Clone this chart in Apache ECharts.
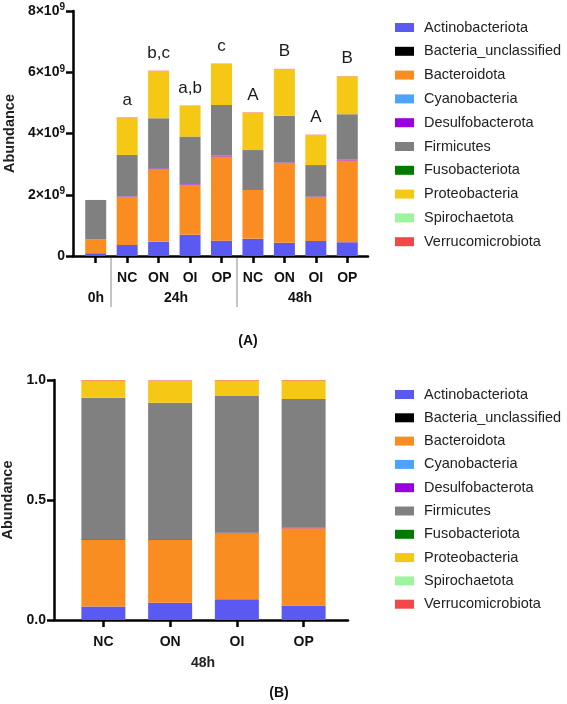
<!DOCTYPE html>
<html><head><meta charset="utf-8">
<script src="https://cdn.jsdelivr.net/npm/echarts@6/dist/echarts.min.js"></script>
<style>html,body{margin:0;padding:0;background:#fff}#c{width:567px;height:704px}</style>
</head><body><div id="c"></div>
<script>
// ---- Data ----
const seriesNames = ['Actinobacteriota','Bacteria_unclassified','Bacteroidota','Cyanobacteria','Desulfobacterota','Firmicutes','Fusobacteriota','Proteobacteria','Spirochaetota','Verrucomicrobiota'];
const seriesColors = ['#5A5AF2','#000000','#F98D22','#4DA3FF','#9A00DD','#808080','#007A00','#F5C816','#9CF59C','#F24848'];

// Panel A: absolute abundance (units of 10^9)
const categoriesA = ['0h','24h-NC','24h-ON','24h-OI','24h-OP','48h-NC','48h-ON','48h-OI','48h-OP'];
const tickLabelsA = ['','NC','ON','OI','OP','NC','ON','OI','OP'];
const lettersA = ['','a','b,c','a,b','c','A','B','A','B'];
const actinoA   = [0.09,0.36,0.47,0.69,0.50,0.56,0.43,0.49,0.45];
const unclassA  = [0,0,0,0,0,0,0,0,0];
const bacteroA  = [0.46,1.56,2.37,1.63,2.75,1.60,2.60,1.43,2.67];
const cyanoA    = [0,0,0,0,0,0,0,0,0];
const desulfoA  = [0,0.02,0.02,0.02,0.02,0.02,0.02,0.02,0.02];
const firmA     = [1.28,1.36,1.64,1.56,1.66,1.28,1.53,1.03,1.49];
const fusoA     = [0,0,0,0,0,0,0,0,0];
const proteoA   = [0,1.20,1.54,1.00,1.34,1.22,1.52,0.98,1.23];
const spiroA    = [0,0,0,0,0,0,0,0,0];
const verrucoA  = [0,0.02,0.01,0.01,0.01,0.01,0.01,0.01,0.01];
const yTicksA = [0,2,4,6,8];

// Panel B: relative abundance at 48h
const categoriesB = ['NC','ON','OI','OP'];
const actinoB   = [0.056,0.072,0.086,0.060];
const unclassB  = [0,0,0,0];
const bacteroB  = [0.277,0.261,0.275,0.322];
const cyanoB    = [0,0,0,0];
const desulfoB  = [0.003,0.003,0.003,0.003];
const firmB     = [0.590,0.569,0.569,0.536];
const fusoB     = [0,0,0,0];
const proteoB   = [0.072,0.091,0.065,0.077];
const spiroB    = [0,0,0,0];
const verrucoB  = [0.002,0.002,0.002,0.002];
const yTicksB = [0,0.5,1.0];

const dataA = [actinoA,unclassA,bacteroA,cyanoA,desulfoA,firmA,fusoA,proteoA,spiroA,verrucoA];
const dataB = [actinoB,unclassB,bacteroB,cyanoB,desulfoB,firmB,fusoB,proteoB,spiroB,verrucoB];

const FONT = "'Liberation Sans', Arial, sans-serif";
const chart = echarts.init(document.getElementById('c'), null, {renderer:'canvas'});

const axisLineStyle = {show:true, lineStyle:{color:'#000', width:2.5}};
const series = [];
seriesNames.forEach((n,i)=>{
  const sA = {name:n, type:'bar', stack:'A', xAxisIndex:1, yAxisIndex:1, barWidth:21,
    itemStyle:{color:seriesColors[i]}, data:dataA[i]};
  if (i === seriesNames.length-1) {
    sA.label = {show:true, position:'top', distance:9, fontFamily:FONT, fontSize:17, color:'#1a1a1a',
      formatter:p=>lettersA[p.dataIndex]};
  }
  series.push(sA);
  series.push({name:n, type:'bar', stack:'B', xAxisIndex:3, yAxisIndex:3, barWidth:44,
    itemStyle:{color:seriesColors[i]}, data:dataB[i]});
});

const legendBase = {orient:'vertical', left:390, itemWidth:19, itemHeight:9,
  data:seriesNames, icon:'rect', selectedMode:false,
  textStyle:{fontFamily:FONT, fontSize:14.5, color:'#222', padding:[0,0,0,5]}};

const boldLabel = {fontFamily:FONT, fontSize:14, fontWeight:'bold', color:'#111'};
const gridBase = {outerBoundsMode:'none', containLabel:false};

chart.setOption({
  animation:false,
  textStyle:{fontFamily:FONT},
  grid:[
    Object.assign({left:73, top:11, width:295, height:245}, gridBase),
    Object.assign({left:80, top:11, width:283, height:245}, gridBase),
    Object.assign({left:54, top:380, width:294, height:240}, gridBase),
    Object.assign({left:70, top:380, width:267, height:240}, gridBase)
  ],
  legend:[Object.assign({top:15, itemGap:8.8}, legendBase), Object.assign({top:382, itemGap:8.3}, legendBase)],
  xAxis:[
    {gridIndex:0, type:'category', data:[''], axisLine:axisLineStyle, axisTick:{show:false}, axisLabel:{show:false}},
    {gridIndex:1, type:'category', data:categoriesA, axisLine:{show:false},
      axisTick:{show:true, alignWithLabel:true, length:7, lineStyle:{color:'#000', width:2.5}},
      axisLabel:Object.assign({margin:15, interval:0, formatter:(v,i)=>tickLabelsA[i]}, boldLabel)},
    {gridIndex:2, type:'category', data:[''], axisLine:axisLineStyle, axisTick:{show:false}, axisLabel:{show:false}},
    {gridIndex:3, type:'category', data:categoriesB, axisLine:{show:false},
      axisTick:{show:true, alignWithLabel:true, length:7, lineStyle:{color:'#000', width:2.5}},
      axisLabel:Object.assign({margin:15, interval:0}, boldLabel)}
  ],
  yAxis:[
    {gridIndex:0, type:'value', min:yTicksA[0], max:yTicksA[yTicksA.length-1], interval:2,
      axisLine:axisLineStyle, splitLine:{show:false},
      axisTick:{show:true, length:7, lineStyle:{color:'#000', width:2.5}},
      axisLabel:Object.assign({margin:8, formatter:v=>v===0?'0':'{b|'+v+'×10}{s|9}',
        rich:{b:{fontFamily:FONT, fontSize:14, fontWeight:'bold', color:'#111'},
              s:{fontFamily:FONT, fontSize:10, fontWeight:'bold', color:'#111', padding:[0,0,7,0]}}}, boldLabel),
      name:'Abundance', nameLocation:'middle', nameGap:56,
      nameTextStyle:{fontFamily:FONT, fontSize:14.5, fontWeight:'bold', color:'#222'}},
    {gridIndex:1, type:'value', min:0, max:8, show:false},
    {gridIndex:2, type:'value', min:yTicksB[0], max:yTicksB[yTicksB.length-1], interval:0.5,
      axisLine:axisLineStyle, splitLine:{show:false},
      axisTick:{show:true, length:7, lineStyle:{color:'#000', width:2.5}},
      axisLabel:Object.assign({margin:8, formatter:v=>v.toFixed(1)}, boldLabel),
      name:'Abundance', nameLocation:'middle', nameGap:34,
      nameTextStyle:{fontFamily:FONT, fontSize:14.5, fontWeight:'bold', color:'#222'}},
    {gridIndex:3, type:'value', min:0, max:1, show:false}
  ],
  series:series,
  graphic:[
    {type:'text', x:96, y:298, style:{text:'0h', align:'center', verticalAlign:'middle', font:'bold 14px '+FONT, fill:'#111'}},
    {type:'text', x:176, y:298, style:{text:'24h', align:'center', verticalAlign:'middle', font:'bold 14px '+FONT, fill:'#111'}},
    {type:'text', x:300, y:298, style:{text:'48h', align:'center', verticalAlign:'middle', font:'bold 14px '+FONT, fill:'#111'}},
    {type:'line', shape:{x1:111, y1:258, x2:111, y2:307}, style:{stroke:'#8a8a8a', lineWidth:1}},
    {type:'line', shape:{x1:237, y1:258, x2:237, y2:307}, style:{stroke:'#8a8a8a', lineWidth:1}},
    {type:'text', x:248, y:341, style:{text:'(A)', align:'center', verticalAlign:'middle', font:'bold 14px '+FONT, fill:'#111'}},
    {type:'text', x:203, y:663, style:{text:'48h', align:'center', verticalAlign:'middle', font:'bold 14px '+FONT, fill:'#222'}},
    {type:'text', x:279, y:693, style:{text:'(B)', align:'center', verticalAlign:'middle', font:'bold 14px '+FONT, fill:'#111'}}
  ]
});
</script></body></html>
